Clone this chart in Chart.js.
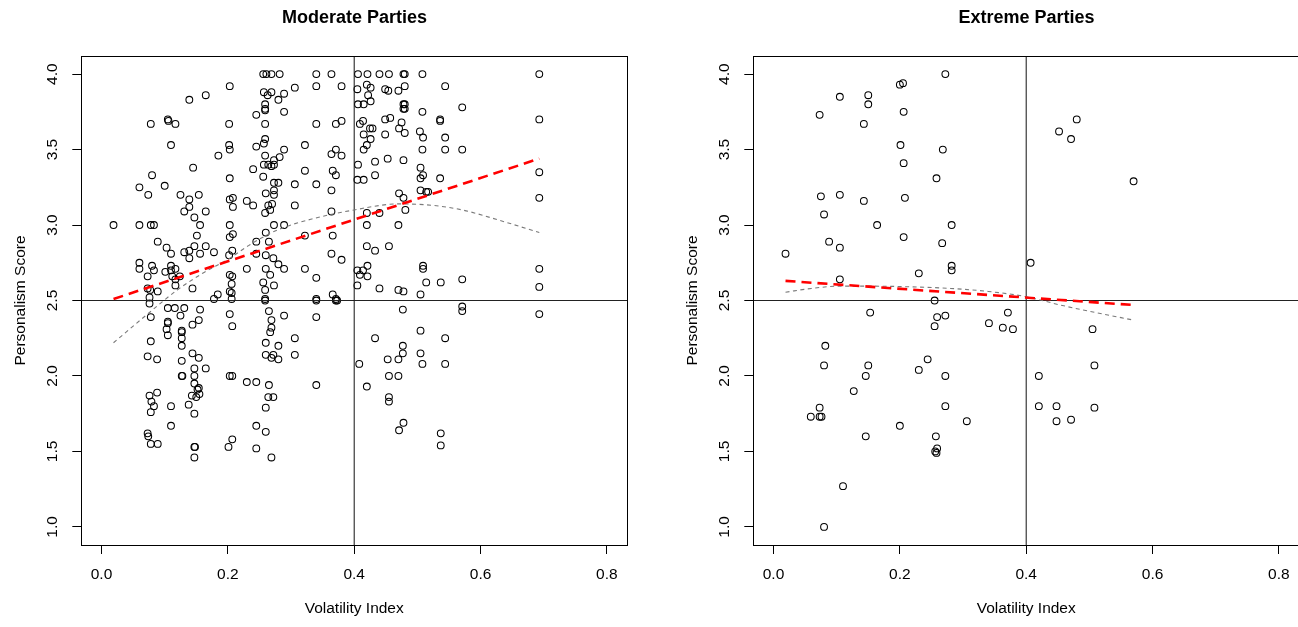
<!DOCTYPE html>
<html>
<head>
<meta charset="utf-8">
<script src="https://cdn.jsdelivr.net/npm/chart.js@4.4.1/dist/chart.umd.min.js"></script>
<style>
html,body{margin:0;padding:0;background:#fff;overflow:hidden;width:1298px;height:627px;}
.p{position:absolute;top:0;width:709px;height:627px;}
</style>
</head>
<body>
<div class="p" style="left:0px"><canvas id="c1" width="709" height="627"></canvas></div>
<div class="p" style="left:672px"><canvas id="c2" width="709" height="627"></canvas></div>
<script>
// ---- data (volatility index, personalism score) ----
const panelTitles = ['Moderate Parties', 'Extreme Parties'];
const xAxisTitle = 'Volatility Index';
const yAxisTitle = 'Personalism Score';
const xTickValues = [0.0, 0.2, 0.4, 0.6, 0.8];
const yTickValues = [1.0, 1.5, 2.0, 2.5, 3.0, 3.5, 4.0];
const xLimits = [-0.032, 0.832];
const yLimits = [0.88, 4.12];
const refX = 0.4;
const refY = 2.5;

const moderatePoints = [
[0.203,3.92],[0.165,3.86],[0.139,3.83],[0.078,3.67],[0.105,3.70],[0.106,3.69],[0.117,3.67],[0.202,3.67],[0.110,3.53],[0.202,3.53],
[0.203,3.50],[0.185,3.46],[0.145,3.38],[0.080,3.33],[0.203,3.31],[0.060,3.25],[0.100,3.26],[0.074,3.20],[0.125,3.20],[0.154,3.20],
[0.139,3.17],[0.203,3.17],[0.208,3.18],[0.230,3.16],[0.139,3.12],[0.208,3.12],[0.131,3.09],[0.165,3.09],[0.147,3.05],[0.019,3.00],
[0.060,3.00],[0.078,3.00],[0.083,3.00],[0.156,3.00],[0.203,3.00],[0.151,2.93],[0.208,2.94],[0.203,2.92],[0.089,2.89],[0.147,2.86],
[0.165,2.86],[0.103,2.85],[0.139,2.83],[0.131,2.82],[0.110,2.81],[0.156,2.81],[0.178,2.82],[0.207,2.83],[0.202,2.80],[0.139,2.78],
[0.060,2.75],[0.060,2.71],[0.080,2.73],[0.083,2.70],[0.110,2.73],[0.110,2.70],[0.117,2.71],[0.101,2.69],[0.073,2.66],[0.112,2.66],
[0.124,2.66],[0.230,2.71],[0.203,2.67],[0.207,2.66],[0.117,2.64],[0.206,2.61],[0.117,2.60],[0.073,2.58],[0.077,2.57],[0.089,2.56],
[0.144,2.58],[0.203,2.56],[0.206,2.55],[0.184,2.54],[0.076,2.52],[0.178,2.51],[0.206,2.51],
[0.076,2.48],[0.105,2.45],[0.116,2.45],[0.131,2.45],[0.156,2.44],[0.125,2.40],[0.203,2.41],[0.078,2.39],[0.154,2.37],[0.105,2.36],
[0.105,2.35],[0.144,2.34],[0.207,2.33],[0.103,2.31],[0.127,2.30],[0.105,2.27],[0.127,2.29],[0.127,2.25],[0.127,2.20],[0.078,2.23],
[0.144,2.15],[0.154,2.12],[0.073,2.13],[0.088,2.11],[0.127,2.10],[0.147,2.05],[0.165,2.05],[0.127,2.00],[0.128,2.00],[0.147,2.00],
[0.203,2.00],[0.207,2.00],[0.230,1.96],[0.147,1.95],[0.154,1.92],[0.152,1.91],[0.143,1.87],[0.150,1.86],[0.155,1.88],[0.076,1.87],
[0.088,1.89],[0.079,1.83],[0.083,1.80],[0.110,1.80],[0.138,1.81],[0.078,1.76],[0.147,1.75],[0.110,1.67],[0.073,1.62],[0.074,1.60],
[0.078,1.55],[0.089,1.55],[0.207,1.58],[0.201,1.53],[0.147,1.53],[0.148,1.53],[0.147,1.46],
[0.256,4.00],[0.261,4.00],[0.269,4.00],[0.282,4.00],[0.340,4.00],[0.364,4.00],[0.406,4.00],[0.421,4.00],[0.440,4.00],[0.455,4.00],[0.478,4.00],
[0.306,3.91],[0.340,3.92],[0.380,3.92],[0.405,3.90],[0.420,3.93],[0.426,3.91],[0.449,3.90],[0.454,3.89],[0.470,3.89],[0.257,3.88],
[0.263,3.86],[0.269,3.88],[0.289,3.87],[0.280,3.83],[0.259,3.80],[0.259,3.77],[0.259,3.76],[0.422,3.86],[0.426,3.82],[0.406,3.80],
[0.415,3.80],[0.478,3.80],[0.478,3.77],[0.289,3.75],[0.245,3.73],[0.259,3.67],[0.340,3.67],[0.371,3.67],[0.380,3.69],[0.414,3.69],
[0.409,3.67],[0.449,3.70],[0.457,3.71],[0.475,3.68],[0.471,3.64],[0.425,3.64],[0.429,3.64],[0.415,3.60],[0.426,3.57],[0.449,3.60],
[0.420,3.53],[0.415,3.50],[0.259,3.57],[0.257,3.54],[0.245,3.52],[0.289,3.50],[0.322,3.53],[0.371,3.50],[0.364,3.47],[0.380,3.46],
[0.259,3.46],[0.282,3.45],[0.273,3.43],[0.240,3.37],[0.257,3.40],[0.264,3.40],[0.273,3.40],[0.269,3.39],[0.322,3.36],[0.366,3.36],
[0.371,3.33],[0.406,3.40],[0.433,3.42],[0.453,3.44],[0.478,3.43],[0.256,3.32],[0.273,3.28],[0.280,3.28],[0.306,3.27],[0.340,3.27],
[0.364,3.23],[0.405,3.30],[0.415,3.30],[0.433,3.33],[0.260,3.21],[0.273,3.23],[0.273,3.20],[0.240,3.13],[0.264,3.13],[0.270,3.14],
[0.267,3.10],[0.259,3.08],[0.306,3.13],[0.364,3.09],[0.471,3.21],[0.478,3.18],[0.273,3.00],[0.289,3.00],[0.420,3.08],[0.440,3.08],
[0.420,3.00],[0.470,3.00],[0.260,2.95],[0.265,2.89],[0.245,2.89],[0.322,2.93],[0.366,2.93],[0.420,2.86],[0.433,2.83],[0.455,2.86],
[0.245,2.81],[0.260,2.80],[0.272,2.78],[0.280,2.74],[0.289,2.71],[0.322,2.71],[0.260,2.71],[0.364,2.81],[0.380,2.77],[0.267,2.67],
[0.256,2.62],[0.273,2.60],[0.259,2.57],[0.340,2.65],[0.405,2.70],[0.414,2.70],[0.421,2.73],[0.409,2.67],[0.421,2.66],[0.405,2.60],
[0.440,2.58],[0.470,2.57],[0.259,2.51],[0.340,2.51],[0.366,2.54],[0.371,2.51],
[0.259,2.50],[0.340,2.50],[0.371,2.50],[0.373,2.50],[0.477,2.44],[0.265,2.43],[0.269,2.37],[0.289,2.40],[0.340,2.39],[0.269,2.32],
[0.267,2.29],[0.306,2.25],[0.260,2.22],[0.280,2.20],[0.433,2.25],[0.477,2.20],[0.260,2.14],[0.272,2.14],[0.269,2.12],[0.280,2.11],
[0.306,2.14],[0.477,2.15],[0.408,2.08],[0.453,2.11],[0.470,2.11],[0.245,1.96],[0.265,1.94],[0.340,1.94],[0.420,1.93],[0.455,2.00],
[0.470,2.00],[0.264,1.86],[0.272,1.86],[0.260,1.79],[0.455,1.86],[0.455,1.83],[0.245,1.67],[0.260,1.63],[0.478,1.69],[0.471,1.64],
[0.245,1.52],[0.269,1.46],
[0.480,4.00],[0.508,4.00],[0.693,4.00],[0.480,3.92],[0.544,3.92],[0.480,3.80],[0.480,3.77],[0.508,3.75],[0.571,3.78],[0.536,3.69],
[0.536,3.70],[0.693,3.70],[0.480,3.61],[0.504,3.62],[0.509,3.58],[0.544,3.58],[0.508,3.50],[0.544,3.50],[0.571,3.50],[0.505,3.38],
[0.509,3.33],[0.505,3.31],[0.536,3.31],[0.693,3.35],[0.505,3.23],[0.514,3.22],[0.517,3.22],[0.481,3.10],[0.693,3.18],[0.509,2.73],
[0.509,2.71],[0.514,2.62],[0.537,2.62],[0.571,2.64],[0.693,2.71],[0.693,2.59],[0.478,2.56],[0.505,2.54],
[0.571,2.46],[0.571,2.43],[0.693,2.41],[0.505,2.30],[0.544,2.25],[0.505,2.15],[0.508,2.08],[0.544,2.08],[0.537,1.62],[0.537,1.54]
];

const extremePoints = [
[0.272,4.00],[0.200,3.93],[0.205,3.94],[0.105,3.85],[0.150,3.86],[0.150,3.80],[0.073,3.73],[0.206,3.75],[0.143,3.67],[0.201,3.53],
[0.268,3.50],[0.206,3.41],[0.258,3.31],[0.075,3.19],[0.105,3.20],[0.143,3.16],[0.208,3.18],[0.080,3.07],[0.164,3.00],[0.282,3.00],
[0.088,2.89],[0.105,2.85],[0.206,2.92],[0.267,2.88],[0.019,2.81],[0.230,2.68],[0.282,2.73],[0.282,2.70],[0.105,2.64],[0.255,2.50],
[0.153,2.42],[0.259,2.39],[0.272,2.40],[0.255,2.33],[0.082,2.20],[0.080,2.07],[0.150,2.07],[0.146,2.00],[0.244,2.11],[0.230,2.04],
[0.272,2.00],[0.127,1.90],[0.272,1.80],[0.073,1.79],[0.059,1.73],[0.073,1.73],[0.076,1.73],[0.200,1.67],[0.146,1.60],[0.257,1.60],
[0.259,1.52],[0.256,1.50],[0.258,1.49],[0.110,1.27],[0.080,1.00],
[0.480,3.70],[0.452,3.62],[0.471,3.57],[0.570,3.29],[0.407,2.75],[0.371,2.42],[0.341,2.35],[0.363,2.32],[0.379,2.31],[0.505,2.31],
[0.508,2.07],[0.420,2.00],[0.420,1.80],[0.448,1.80],[0.508,1.79],[0.448,1.70],[0.471,1.71],[0.306,1.70]
];

// linear fits (red dashed)
const moderateFitX = [0.019, 0.693];
const moderateFitY = [2.51, 3.44];
const extremeFitX = [0.019, 0.570];
const extremeFitY = [2.63, 2.47];

// smoothed (loess) curves (grey dashed)
const moderateSmoothX = [0.019, 0.07, 0.12, 0.16, 0.203, 0.235, 0.28, 0.333, 0.40, 0.47, 0.525, 0.571, 0.631, 0.693];
const moderateSmoothY = [2.22, 2.40, 2.57, 2.68, 2.78, 2.87, 2.97, 3.04, 3.10, 3.14, 3.13, 3.10, 3.03, 2.95];
const extremeSmoothX = [0.019, 0.06, 0.105, 0.16, 0.22, 0.28, 0.34, 0.40, 0.454, 0.51, 0.570];
const extremeSmoothY = [2.555, 2.58, 2.595, 2.595, 2.59, 2.58, 2.56, 2.525, 2.47, 2.42, 2.37];

// ---- drawing ----
Chart.defaults.font.family = '"Liberation Sans", Arial, Helvetica, sans-serif';
Chart.defaults.color = '#000';

const zip = (xs, ys) => xs.map((x, i) => ({x: x, y: ys[i]}));

const boxPlugin = {
  id: 'box',
  afterDraw(chart) {
    const {ctx, chartArea: a} = chart;
    const l = Math.round(a.left), t = Math.round(a.top), r = Math.round(a.right), b = Math.round(a.bottom);
    ctx.save();
    ctx.strokeStyle = '#000';
    ctx.lineWidth = 1;
    ctx.strokeRect(l + 0.5, t + 0.5, r - l, b - t);
    ctx.restore();
  }
};

function makeChart(id, title, pts, fitX, fitY, smX, smY) {
  return new Chart(document.getElementById(id), {
    type: 'scatter',
    data: {
      datasets: [
        { type: 'line', data: zip(fitX, fitY), borderColor: '#ff0000', borderWidth: 2.6,
          borderDash: [10, 6], pointRadius: 0, fill: false, order: 1, xAxisID: 'x', yAxisID: 'y' },
        { type: 'line', data: zip(smX, smY), borderColor: '#7a7a7a', borderWidth: 1.1,
          borderDash: [4, 3.5], pointRadius: 0, fill: false, cubicInterpolationMode: 'monotone',
          order: 2, xAxisID: 'x', yAxisID: 'y' },
        { type: 'line', data: [{x: refX, y: yLimits[0]}, {x: refX, y: yLimits[1]}], borderColor: '#111',
          borderWidth: 1, pointRadius: 0, fill: false, order: 3, xAxisID: 'x', yAxisID: 'y' },
        { type: 'line', data: [{x: xLimits[0], y: refY}, {x: xLimits[1], y: refY}], borderColor: '#222',
          borderWidth: 1, pointRadius: 0, fill: false, order: 3, xAxisID: 'x', yAxisID: 'y' },
        { type: 'scatter', data: pts.map(p => ({x: p[0], y: p[1]})), pointStyle: 'circle',
          pointRadius: 3.4, pointHoverRadius: 3.4, pointBorderWidth: 1.05, pointBorderColor: '#000',
          pointBackgroundColor: 'rgba(0,0,0,0)', order: 5, xAxisID: 'x', yAxisID: 'y' }
      ]
    },
    options: {
      responsive: false,
      animation: false,
      events: [],
      layout: { padding: 0 },
      plugins: {
        legend: { display: false },
        tooltip: { enabled: false },
        title: { display: true, text: title, color: '#000',
          font: { size: 18, weight: 'bold' }, padding: { top: 6.9, bottom: 27.5 } }
      },
      scales: {
        x: {
          type: 'linear', position: 'bottom', min: xLimits[0], max: xLimits[1],
          afterBuildTicks: s => { s.ticks = xTickValues.map(v => ({value: v})); },
          afterFit: s => { s.height = 82; },
          ticks: { autoSkip: false, maxRotation: 0, minRotation: 0, padding: 11.7, color: '#000',
            font: { size: 15.5 }, callback: v => Number(v).toFixed(1) },
          grid: { drawOnChartArea: false, drawTicks: true, tickLength: 9, color: '#000', lineWidth: 1 },
          border: { display: false },
          title: { display: true, text: xAxisTitle, color: '#000', font: { size: 15.5 },
            padding: { top: 0, bottom: 8.7 } }
        },
        y: {
          type: 'linear', position: 'left', min: yLimits[0], max: yLimits[1],
          afterBuildTicks: s => { s.ticks = yTickValues.map(v => ({value: v})); },
          afterFit: s => { s.width = 81.3; },
          ticks: { autoSkip: false, minRotation: 90, maxRotation: 90, crossAlign: 'center', padding: 9,
            color: '#000', font: { size: 15.5 }, callback: v => Number(v).toFixed(1) },
          grid: { drawOnChartArea: false, drawTicks: true, tickLength: 9, color: '#000', lineWidth: 1 },
          border: { display: false },
          title: { display: true, text: yAxisTitle, color: '#000', font: { size: 15.5 },
            padding: { top: 11.7, bottom: 0 } }
        },
        yRight: {
          type: 'linear', position: 'right', min: yLimits[0], max: yLimits[1],
          afterFit: s => { s.width = 81.9; },
          ticks: { display: false },
          grid: { display: false },
          border: { display: false }
        }
      }
    },
    plugins: [boxPlugin]
  });
}

makeChart('c1', panelTitles[0], moderatePoints, moderateFitX, moderateFitY, moderateSmoothX, moderateSmoothY);
makeChart('c2', panelTitles[1], extremePoints, extremeFitX, extremeFitY, extremeSmoothX, extremeSmoothY);
</script>
</body>
</html>
